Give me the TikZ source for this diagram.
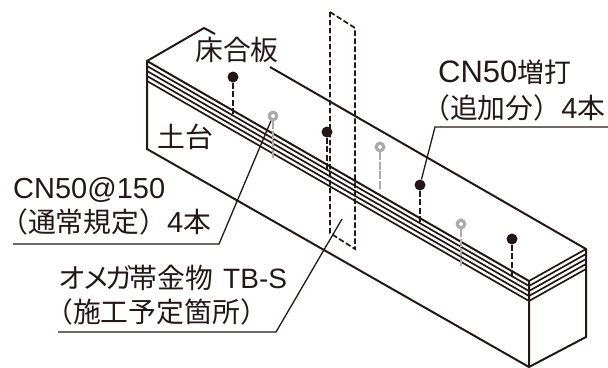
\documentclass[tikz,border=0pt]{standalone}
\usepackage{fontspec}
\setmainfont{Liberation Sans}
\newfontfamily\cjk{Noto Sans CJK JP}[Scale=0.96]
\definecolor{ink}{HTML}{231815}
\definecolor{nailgray}{HTML}{ABABAB}
\tikzset{
  beam/.style={draw=ink,line width=2pt},
  lam/.style={draw=ink,line width=1.7pt},
  lead/.style={draw=ink,line width=1.3pt},
  cutout/.style={draw=ink,line width=1.7pt,dash pattern=on 5.5pt off 2.5pt},
  nailb/.style={draw=ink,line width=2pt,dash pattern=on 6pt off 2.5pt},
  nailg/.style={draw=nailgray,line width=2pt,dash pattern=on 8pt off 1.5pt},
  headb/.style={circle,fill=ink,minimum size=11pt,inner sep=0pt},
  headg/.style={circle,draw=nailgray,fill=white,line width=3.2pt,minimum size=7.5pt,inner sep=0pt},
  lab/.style={anchor=base west,inner sep=0pt,font=\fontsize{29}{29}\selectfont,text=ink},
}
\begin{document}
\begin{tikzpicture}[x=1pt,y=-1pt]
\useasboundingbox (0,0) rectangle (608,367);
% beam
\coordinate (tl) at (147,61);
\coordinate (back) at (204,28);
\coordinate (backend) at (215,34);
\coordinate (backres) at (270,67);
\coordinate (tr) at (586,249);
\coordinate (fc) at (529,281);
\coordinate (fcb) at (529,301);
\coordinate (bot) at (529,367);
\coordinate (rb) at (586,337);
\coordinate (ll) at (147,149);
\draw[beam] (backend) -- (back) -- (tl) -- (ll) -- (bot) -- (rb) -- (tr) -- (backres);
\draw[beam] (tl) -- (fc) -- (fc |- bot);
\foreach \i/\a/\b in {1/66/286,2/71/291,3/76/296,4/81/301}{
  \draw[lam] (147,\a) -- (529,\b);
  \pgfmathsetmacro{\c}{249+(\i*5)}
  \draw[lam] (529,\b) -- (586,\c);
}
\draw[lam] (fc) -- (tr);
% dashed plate
\coordinate (p1) at (330,12);
\coordinate (p2) at (355,28);
\coordinate (p3) at (355,249);
\coordinate (p4) at (330,233);
\draw[cutout] (p1) -- (p2) -- (p3) -- (p4) -- cycle;
% nails
\node[headb] (n1) at (233,77) {};
\node[headb] (n2) at (327,132) {};
\node[headb] (n3) at (420,185) {};
\node[headb] (n4) at (512,239) {};
\coordinate (n1e) at (233,115);
\coordinate (n2e) at (327,170);
\coordinate (n3e) at (420,224);
\coordinate (n4e) at (512,278);
\draw[nailb] (n1) -- (n1e);
\draw[nailb] (n2) -- (n2e);
\draw[nailb] (n3) -- (n3e);
\draw[nailb] (n4) -- (n4e);
\node[headg] (g1) at (273,116) {};
\node[headg] (g2) at (380,147) {};
\node[headg] (g3) at (461,224) {};
\coordinate (g1e) at (273,158);
\coordinate (g2e) at (380,190);
\coordinate (g3e) at (461,267);
\draw[nailg] (g1) -- (g1e);
\draw[nailg] (g2) -- (g2e);
\draw[nailg] (g3) -- (g3e);
% leaders
\coordinate (a1) at (13,244);
\coordinate (a2) at (219,244);
\draw[lead] (a1) -- (a2) -- (g1);
\coordinate (b1) at (58,332);
\coordinate (b2) at (276,332);
\coordinate (b3) at (342,219);
\draw[lead] (b1) -- (b2) -- (b3);
\coordinate (c1) at (435,127);
\coordinate (c2) at (608,127);
\draw[lead] (n3) -- (c1) -- (c2);
% labels
\node[lab] (t1) at (195,60) {\cjk 床合板};
\node[lab] (t2) at (157,147) {\cjk 土台};
\node[lab] (t3) at (438,82) {\fontsize{31}{31}\selectfont CN50{\cjk\fontsize{28}{28}\selectfont 増打}};
\node[lab] (t4) at (422,118) {\cjk （追加分）{\rmfamily 4}本};
\node[lab] (t5) at (13,198) {CN50@150};
\node[lab] (t6) at (0,232) {\cjk （通常規定）{\rmfamily 4}本};
\node[lab] (t7) at (58,288) {\cjk オ\hspace{-4pt}メ\hspace{-4pt}ガ\hspace{-4pt}帯金物\hspace{10pt}{\rmfamily\fontsize{28}{28}\selectfont TB-S}};
\node[lab] (t8) at (45,322) {\cjk （施工予定箇所）};
\end{tikzpicture}
\end{document}
